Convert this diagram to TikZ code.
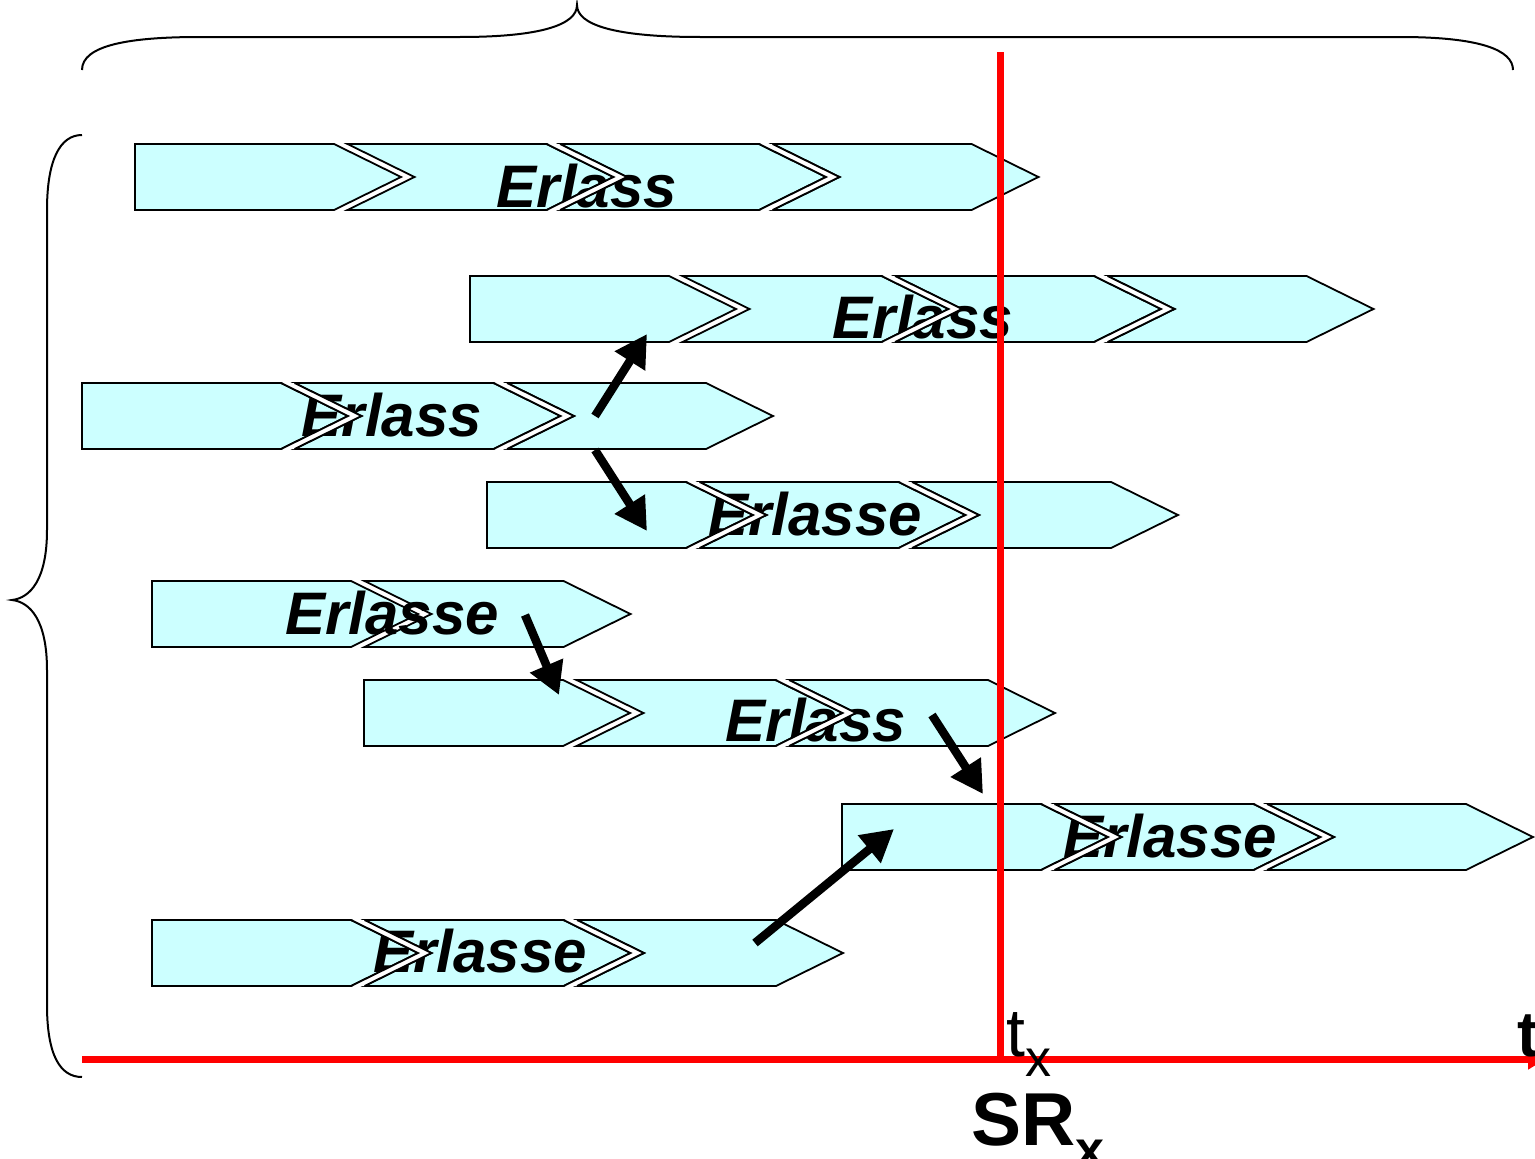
\documentclass[tikz,border=0pt]{standalone}
\usepackage{fontspec}
\setmainfont{Liberation Sans}
\usetikzlibrary{arrows.meta}
\definecolor{erlasscyan}{RGB}{204,255,255}
\newcommand{\erlassfont}{\fontsize{60}{60}\selectfont\bfseries\itshape}
% centre y / first x / number of segments / first gap lying over the text
\newcommand{\erlassrows}{177/135/4/3,309/470/4/3,416/82/3/2,515/487/3/2,614/152/2/3,713/364/3/3,837/842/3/2,953/152/3/2}

\begin{document}
\begin{tikzpicture}[x=1pt,y=-1pt,
seg/.style={fill=erlasscyan,draw=black,line width=1.8pt},
gapline/.style={draw=black,line width=1.8pt},
word/.style={font=\erlassfont,inner sep=0pt,anchor=base},
linkarrow/.style={line width=8.5pt,-{Triangle[length=32pt,width=34pt]}},
redline/.style={red,line width=7pt},
brace/.style={draw=black,line width=2pt}]

\useasboundingbox (0,0) rectangle (1535,1159);

% segments
\foreach \y/\x/\n/\k in \erlassrows {
  \foreach \i in {1,...,\n} {
    \pgfmathsetmacro{\xs}{\x+212.5*(\i-1)}
    \ifnum\i=1
      \path[seg] (\xs,\y-33) -- (\xs+199,\y-33) -- (\xs+266,\y) -- (\xs+199,\y+33) -- (\xs,\y+33) -- cycle;
    \else
      \path[seg] (\xs,\y-33) -- (\xs+199,\y-33) -- (\xs+266,\y) -- (\xs+199,\y+33) -- (\xs,\y+33) -- (\xs+67,\y) -- cycle;
    \fi
  }
}

\node[word] (e1) at (587,207) {Erlass};
\node[word] (e2) at (923,338) {Erlass};
\node[word] (e3) at (392,436) {Erlass};
\node[word] (e4) at (815,535) {Erlasse};
\node[word] (e5) at (392,634) {Erlasse};
\node[word] (e6) at (816,741) {Erlass};
\node[word] (e7) at (1170,857) {Erlasse};
\node[word] (e8) at (480,972) {Erlasse};

% white gaps of the later segments, over the text
\foreach \y/\x/\n/\k in \erlassrows {
  \foreach \i in {2,...,\n} {
    \ifnum\i<\k\else
    \pgfmathsetmacro{\xs}{\x+212.5*(\i-1)}
    \fill[white] (\xs-13.5,\y-33) -- (\xs+53.5,\y) -- (\xs-13.5,\y+33) -- (\xs,\y+33) -- (\xs+67,\y) -- (\xs,\y-33) -- cycle;
    \draw[gapline] (\xs-13.5,\y-33) -- (\xs+53.5,\y) -- (\xs-13.5,\y+33);
    \draw[gapline] (\xs,\y-33) -- (\xs+67,\y) -- (\xs,\y+33);
    \fi
  }
}

\coordinate (a1s) at (595,416); \coordinate (a1e) at (647,334);
\coordinate (a2s) at (595,450); \coordinate (a2e) at (647,531);
\coordinate (a3s) at (525,615); \coordinate (a3e) at (559,695);
\coordinate (a4s) at (932,715); \coordinate (a4e) at (983,794);
\coordinate (a5s) at (755,943); \coordinate (a5e) at (894,829);
\draw[linkarrow] (a1s) -- (a1e);
\draw[linkarrow] (a2s) -- (a2e);
\draw[linkarrow] (a3s) -- (a3e);
\draw[linkarrow] (a4s) -- (a4e);
\draw[linkarrow] (a5s) -- (a5e);

% braces
\draw[brace] (82,70) .. controls (82,45) and (130,37) .. (200,37) -- (460,37)
  .. controls (540,37) and (577,25) .. (577,5) .. controls (577,25) and (615,37) .. (700,37)
  -- (1400,37) .. controls (1480,37) and (1513,50) .. (1513,70);
\draw[brace] (82,135) .. controls (60,135) and (47,160) .. (47,210) -- (47,530)
  .. controls (47,580) and (30,598) .. (12,600) .. controls (30,602) and (47,620) .. (47,670)
  -- (47,1005) .. controls (47,1055) and (60,1077) .. (82,1077);

% time axis and cut
\coordinate (cuttop) at (1000,52); \coordinate (cutbot) at (1000,1062);
\coordinate (origin) at (82,1059); \coordinate (tend) at (1546,1059);
\draw[redline] (cuttop) -- (cutbot);
\draw[redline,-{Triangle[length=18pt,width=20pt]}] (origin) -- (tend);

\node[anchor=base west,inner sep=0pt,font=\fontsize{68}{68}\selectfont] (tx) at (1006,1056) {t\raisebox{-20pt}{\fontsize{52}{52}\selectfont x}};
\node[anchor=base west,inner sep=0pt,font=\fontsize{75}{75}\selectfont\bfseries] (srx) at (971,1145) {SR\raisebox{-22pt}{\fontsize{52}{52}\selectfont x}};
\node[anchor=base west,inner sep=0pt,font=\fontsize{64}{64}\selectfont\bfseries] (taxis) at (1517,1056) {t};
\end{tikzpicture}
\end{document}
